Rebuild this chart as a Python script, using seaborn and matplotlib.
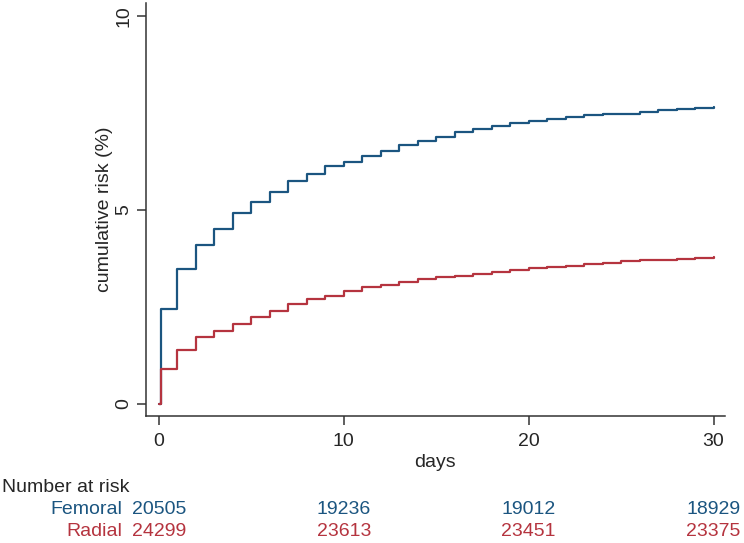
import matplotlib
matplotlib.use("Agg")
import matplotlib.pyplot as plt
import pandas as pd
import seaborn as sns

# step times (days) and cumulative risk (%)
DAYS = [0, 0.1] + list(range(1, 31))
FEMORAL = [0, 2.45, 3.49, 4.11, 4.51, 4.92, 5.21, 5.46, 5.75, 5.94, 6.14,
           6.24, 6.38, 6.51, 6.68, 6.78, 6.89, 7.01, 7.08, 7.16, 7.23,
           7.29, 7.35, 7.41, 7.44, 7.47, 7.48, 7.52, 7.57, 7.60, 7.63, 7.65]
RADIAL = [0, 0.91, 1.39, 1.72, 1.89, 2.05, 2.24, 2.40, 2.57, 2.71, 2.79,
          2.91, 3.02, 3.07, 3.14, 3.21, 3.26, 3.30, 3.36, 3.41, 3.45,
          3.50, 3.53, 3.56, 3.61, 3.64, 3.68, 3.70, 3.72, 3.74, 3.76, 3.78]

RISK_DAYS = [0, 10, 20, 30]
FEMORAL_AT_RISK = [20505, 19236, 19012, 18929]
RADIAL_AT_RISK = [24299, 23613, 23451, 23375]

COLORS = {"Femoral": "#1b5580", "Radial": "#b5343f"}

df = pd.concat([
    pd.DataFrame({"day": DAYS, "risk": FEMORAL, "group": "Femoral"}),
    pd.DataFrame({"day": DAYS, "risk": RADIAL, "group": "Radial"}),
])

sns.set_style("ticks")
plt.rcParams["font.family"] = ["Liberation Sans", "DejaVu Sans"]
plt.rcParams["font.size"] = 14

fig = plt.figure(figsize=(7.44, 5.43), dpi=100)
ax = fig.add_axes([0.196, 0.234, 0.778, 0.76])

sns.lineplot(data=df, x="day", y="risk", hue="group", palette=COLORS,
             drawstyle="steps-post", linewidth=1.6, legend=False, ax=ax,
             estimator=None, sort=False)

ax.set_xlim(-0.7, 30.6)
ax.set_ylim(-0.31, 10.33)
ax.set_xticks([0, 10, 20, 30])
ax.set_yticks([0, 5, 10])
ax.set_xlabel("days", fontsize=14, labelpad=3)
ax.set_ylabel("cumulative risk (%)", fontsize=14, labelpad=2)
ax.tick_params(axis="both", labelsize=14, length=6.5, width=1.1,
               color="#333333", pad=4)
ax.tick_params(axis="x", pad=6)
ax.tick_params(axis="y", labelrotation=90, pad=3)
for lab in ax.get_yticklabels():
    lab.set_va("center")
for side in ["top", "right"]:
    ax.spines[side].set_visible(False)
for side in ["left", "bottom"]:
    ax.spines[side].set_color("#333333")
    ax.spines[side].set_linewidth(1.1)

# number at risk table below the axis
trans = ax.get_xaxis_transform()
fig.text(0.003, 1 - 488 / 543, "Number at risk", fontsize=14,
         va="center", ha="left")
rows = [("Femoral", FEMORAL_AT_RISK, 1 - 510 / 543),
        ("Radial", RADIAL_AT_RISK, 1 - 532 / 543)]
for name, counts, yf in rows:
    ytr = ax.transAxes.inverted().transform(fig.transFigure.transform((0, yf)))[1]
    for d, n in zip(RISK_DAYS, counts):
        ax.text(d, ytr, str(n), transform=trans, ha="center", va="center",
                fontsize=14, color=COLORS[name], clip_on=False)
    ax.text(-1.95, ytr, name, transform=trans, ha="right", va="center",
            fontsize=14, color=COLORS[name], clip_on=False)

fig.savefig("out.png", dpi=100, facecolor="white")
